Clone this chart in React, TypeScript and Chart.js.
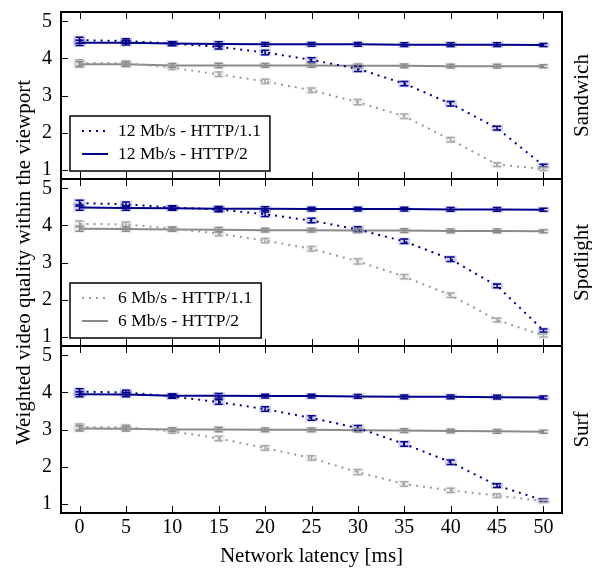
import React, { useEffect, useRef } from "react";
import { Chart, registerables } from "chart.js";

Chart.register(...registerables);

const FONT = "'Liberation Serif', 'Times New Roman', serif";

// ---- data ----
const latency = [0, 5, 10, 15, 20, 25, 30, 35, 40, 45, 50];
const xTicks = [0, 5, 10, 15, 20, 25, 30, 35, 40, 45, 50];
const yTicks = [1, 2, 3, 4, 5];
const panelNames = ["Sandwich", "Spotlight", "Surf"];
const seriesLabels = ["12 Mb/s - HTTP/1.1", "12 Mb/s - HTTP/2", "6 Mb/s - HTTP/1.1", "6 Mb/s - HTTP/2"];

const sandwich12h1 = [4.49, 4.47, 4.4, 4.31, 4.16, 3.96, 3.72, 3.32, 2.78, 2.12, 1.11];
const sandwich12h2 = [4.42, 4.42, 4.4, 4.39, 4.38, 4.38, 4.38, 4.37, 4.37, 4.37, 4.36];
const sandwich6h1 = [3.88, 3.87, 3.75, 3.57, 3.38, 3.14, 2.82, 2.44, 1.81, 1.14, 1.02];
const sandwich6h2 = [3.84, 3.84, 3.81, 3.81, 3.81, 3.81, 3.8, 3.8, 3.79, 3.79, 3.79];

const spotlight12h1 = [4.6, 4.57, 4.48, 4.43, 4.3, 4.13, 3.89, 3.57, 3.09, 2.37, 1.17];
const spotlight12h2 = [4.48, 4.47, 4.46, 4.45, 4.45, 4.44, 4.44, 4.44, 4.43, 4.43, 4.42];
const spotlight6h1 = [4.04, 4.03, 3.91, 3.78, 3.59, 3.37, 3.03, 2.62, 2.12, 1.45, 1.03];
const spotlight6h2 = [3.91, 3.9, 3.89, 3.88, 3.87, 3.87, 3.86, 3.86, 3.85, 3.85, 3.84];

const surf12h1 = [4.02, 4.0, 3.89, 3.74, 3.55, 3.31, 3.04, 2.61, 2.12, 1.49, 1.09];
const surf12h2 = [3.95, 3.94, 3.91, 3.91, 3.9, 3.9, 3.89, 3.88, 3.88, 3.87, 3.86];
const surf6h1 = [3.07, 3.06, 2.95, 2.76, 2.5, 2.23, 1.85, 1.53, 1.36, 1.22, 1.07];
const surf6h2 = [3.03, 3.02, 3.0, 3.0, 2.99, 2.99, 2.98, 2.97, 2.96, 2.95, 2.94];

// error half-widths
const errH1 = [0.08, 0.06, 0.05, 0.06, 0.06, 0.06, 0.07, 0.06, 0.06, 0.05, 0.04];
const errH2 = [0.07, 0.06, 0.05, 0.06, 0.05, 0.05, 0.05, 0.05, 0.05, 0.05, 0.04];

const panelData = [
  [sandwich12h1, sandwich12h2, sandwich6h1, sandwich6h2],
  [spotlight12h1, spotlight12h2, spotlight6h1, spotlight6h2],
  [surf12h1, surf12h2, surf6h1, surf6h2],
];
const panelLegends = [[0, 1], [2, 3], []];

// ---- styles ----
const BLUE = "#00008b";
const GRAY_SOLID = "#8a8a8a";
const GRAY_DOT = "#9a9a9a";
const seriesStyle = [
  { color: BLUE, err: BLUE, dash: [2, 5], width: 2 },
  { color: BLUE, err: BLUE, dash: [], width: 2 },
  { color: GRAY_DOT, err: "#a8a8a8", dash: [2, 5], width: 2 },
  { color: GRAY_SOLID, err: "#8a8a8a", dash: [], width: 2 },
];
const seriesErr = [errH1, errH2, errH1, errH2];

// panel vertical placement (chart area top/bottom in page pixels)
const panelTop = [12, 179, 346];
const panelBottom = [179, 346, 513];
const W = 592;
const H = 570;

const decorPlugin = {
  id: "panelDecor",
  afterDatasetsDraw(chart: any) {
    const ctx = chart.ctx;
    const xs = chart.scales.x;
    const ys = chart.scales.y;
    ctx.save();
    ctx.beginPath();
    ctx.rect(chart.chartArea.left, chart.chartArea.top, chart.chartArea.right - chart.chartArea.left, chart.chartArea.bottom - chart.chartArea.top);
    ctx.clip();
    chart.data.datasets.forEach((ds: any) => {
      const errs = ds.errors;
      if (!errs) return;
      ds.data.forEach((p: any, j: number) => {
        const x = xs.getPixelForValue(p.x);
        const y1 = ys.getPixelForValue(p.y + errs[j]);
        const y2 = ys.getPixelForValue(p.y - errs[j]);
        ctx.globalAlpha = 0.18;
        ctx.fillStyle = ds.errColor;
        ctx.fillRect(x - 6, y1 - 1.5, 12, y2 - y1 + 3);
        ctx.globalAlpha = 1;
        ctx.strokeStyle = ds.errColor;
        ctx.lineWidth = 1.5;
        ctx.setLineDash([]);
        ctx.beginPath();
        ctx.moveTo(x, y1);
        ctx.lineTo(x, y2);
        ctx.moveTo(x - 4, y1);
        ctx.lineTo(x + 4, y1);
        ctx.moveTo(x - 4, y2);
        ctx.lineTo(x + 4, y2);
        ctx.stroke();
      });
    });
    ctx.restore();
  },
  afterDraw(chart: any, _args: any, opts: any) {
    const ctx = chart.ctx;
    const { left, right, top, bottom } = chart.chartArea;
    const xs = chart.scales.x;
    const ys = chart.scales.y;
    ctx.save();
    // tick marks
    ctx.strokeStyle = "#000";
    ctx.lineWidth = 1;
    ctx.setLineDash([]);
    ctx.beginPath();
    xTicks.forEach((t) => {
      const x = Math.round(xs.getPixelForValue(t)) + 0.5;
      ctx.moveTo(x, top);
      ctx.lineTo(x, top + 7);
      ctx.moveTo(x, bottom);
      ctx.lineTo(x, bottom - 7);
    });
    yTicks.forEach((t) => {
      const y = Math.round(ys.getPixelForValue(t)) + 0.5;
      ctx.moveTo(left, y);
      ctx.lineTo(left + 7, y);
    });
    ctx.stroke();
    // frame
    ctx.lineWidth = 2;
    ctx.strokeRect(left, top, right - left, bottom - top);

    // legend
    const items: number[] = opts.legend || [];
    if (items.length) {
      ctx.font = `17.5px ${FONT}`;
      let maxW = 0;
      items.forEach((i) => {
        maxW = Math.max(maxW, ctx.measureText(chart.data.datasets[i].label).width);
      });
      const bw = 48 + maxW + 9;
      const bh = 55;
      const bx = left + 9;
      const by = bottom - 8 - bh;
      ctx.fillStyle = "#fff";
      ctx.fillRect(bx, by, bw, bh);
      ctx.lineWidth = 1.5;
      ctx.strokeStyle = "#000";
      ctx.strokeRect(bx, by, bw, bh);
      items.forEach((i, k) => {
        const ds = chart.data.datasets[i];
        const ry = by + 15 + k * 23;
        ctx.strokeStyle = ds.borderColor;
        ctx.lineWidth = ds.borderWidth;
        ctx.setLineDash(ds.borderDash || []);
        ctx.beginPath();
        ctx.moveTo(bx + 12, ry);
        ctx.lineTo(bx + 38, ry);
        ctx.stroke();
        ctx.setLineDash([]);
        ctx.fillStyle = "#000";
        ctx.textAlign = "left";
        ctx.textBaseline = "middle";
        ctx.fillText(ds.label, bx + 48, ry);
      });
    }

    // panel name on the right
    ctx.fillStyle = "#000";
    ctx.font = `21px ${FONT}`;
    ctx.textAlign = "center";
    ctx.textBaseline = "alphabetic";
    ctx.translate(588, (top + bottom) / 2);
    ctx.rotate(-Math.PI / 2);
    ctx.fillText(opts.name, 0, 0);
    ctx.restore();
  },
};

function buildConfig(p: number): any {
  const isBottom = p === 2;
  const datasets = panelData[p].map((vals, s) => ({
    label: seriesLabels[s],
    data: vals.map((v, j) => ({ x: latency[j], y: v })),
    borderColor: seriesStyle[s].color,
    backgroundColor: seriesStyle[s].color,
    borderWidth: seriesStyle[s].width,
    borderDash: seriesStyle[s].dash,
    borderCapStyle: "butt",
    pointRadius: 0,
    pointHoverRadius: 0,
    tension: 0,
    fill: false,
    errors: seriesErr[s],
    errColor: seriesStyle[s].err,
  }));
  return {
    type: "line",
    data: { datasets },
    plugins: [decorPlugin],
    options: {
      animation: false,
      responsive: false,
      maintainAspectRatio: false,
      events: [],
      layout: {
        padding: {
          left: 0,
          right: W - 562,
          top: panelTop[p],
          bottom: isBottom ? 0 : H - panelBottom[p],
        },
      },
      plugins: {
        legend: { display: false },
        tooltip: { enabled: false },
        panelDecor: { name: panelNames[p], legend: panelLegends[p] },
      },
      scales: {
        x: {
          type: "linear",
          position: "bottom",
          min: -2,
          max: 52,
          display: isBottom,
          grid: { display: false, drawTicks: false },
          border: { display: false },
          afterBuildTicks: (axis: any) => {
            axis.ticks = xTicks.map((v) => ({ value: v }));
          },
          ticks: {
            color: "#000",
            font: { family: FONT, size: 20 },
            padding: 3,
            maxRotation: 0,
            autoSkip: false,
          },
          title: {
            display: isBottom,
            text: "Network latency [ms]",
            color: "#000",
            font: { family: FONT, size: 21 },
            padding: { top: 0, bottom: 1.4 },
          },
          afterFit: (axis: any) => {
            if (isBottom) axis.height = H - 513;
            axis.paddingLeft = 0;
            axis.paddingRight = 0;
          },
        },
        y: {
          type: "linear",
          position: "left",
          min: 0.75,
          max: 5.25,
          grid: { display: false, drawTicks: false },
          border: { display: false },
          afterBuildTicks: (axis: any) => {
            axis.ticks = yTicks.map((v) => ({ value: v }));
          },
          ticks: {
            color: "#000",
            font: { family: FONT, size: 20 },
            padding: 9,
          },
          title: {
            display: p === 1,
            text: "Weighted video quality within the viewport",
            color: "#000",
            font: { family: FONT, size: 21 },
            padding: { top: 11.4, bottom: 0 },
          },
          afterFit: (axis: any) => {
            axis.width = 61;
            axis.paddingTop = 0;
            axis.paddingBottom = 0;
          },
        },
      },
    },
  };
}

export default function App() {
  const r0 = useRef<HTMLCanvasElement>(null);
  const r1 = useRef<HTMLCanvasElement>(null);
  const r2 = useRef<HTMLCanvasElement>(null);

  useEffect(() => {
    const refs = [r0, r1, r2];
    const charts = refs.map((r, p) => new Chart(r.current as HTMLCanvasElement, buildConfig(p)));
    return () => charts.forEach((c) => c.destroy());
  }, []);

  const canvasStyle: React.CSSProperties = { position: "absolute", left: 0, top: 0, width: W, height: H, display: "block" };
  return (
    <div style={{ position: "absolute", left: 0, top: 0, width: W, height: H, background: "#fff" }}>
      <canvas ref={r0} width={W} height={H} style={canvasStyle} />
      <canvas ref={r1} width={W} height={H} style={canvasStyle} />
      <canvas ref={r2} width={W} height={H} style={canvasStyle} />
    </div>
  );
}
